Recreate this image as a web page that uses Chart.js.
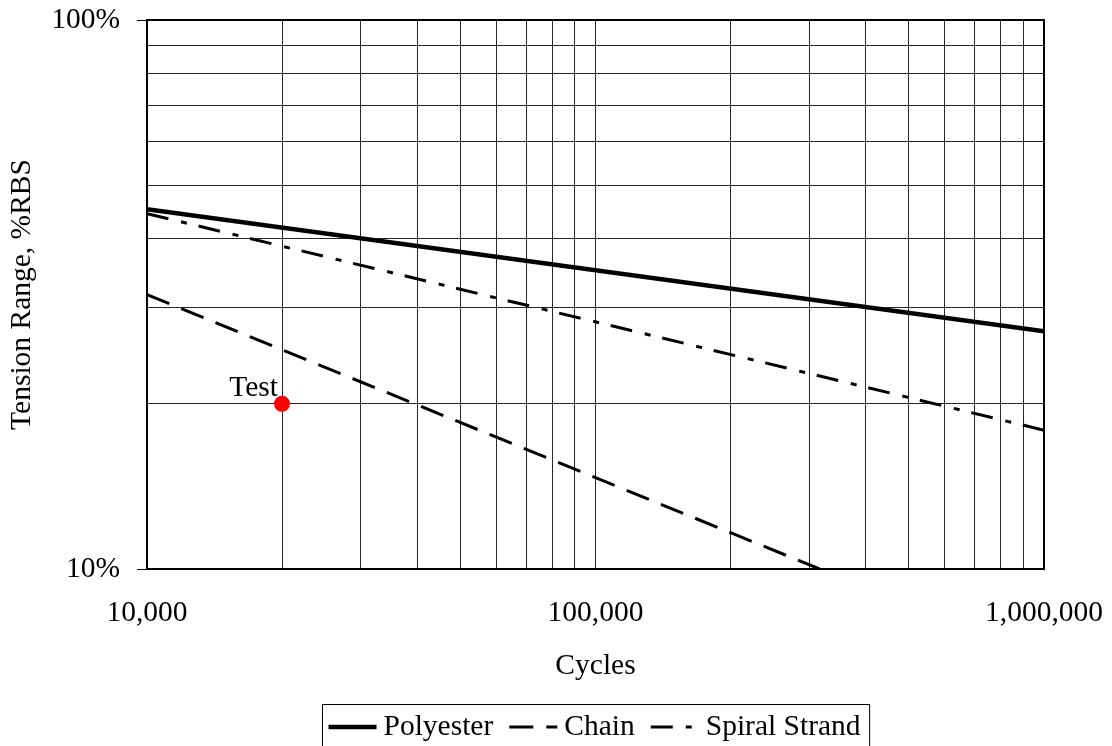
<!DOCTYPE html>
<html>
<head>
<meta charset="utf-8">
<script src="https://cdn.jsdelivr.net/npm/chart.js@4.4.1/dist/chart.umd.min.js"></script>
<style>
	body { margin: 0; background: #fff; }
	#wrap { width: 1112px; height: 746px; }
</style>
</head>
<body>
<div id="wrap"><canvas id="sn-chart" width="1112" height="746"></canvas></div>
<script>
// S-N curves (cycles vs tension range in %RBS)
var seriesNames = ['Polyester', 'Chain', 'Spiral Strand'];
var polyesterCycles = [10000, 1000000];
var polyesterTension = [45.2, 27.1];
var chainCycles = [10000, 316000];
var chainTension = [31.6, 10];
var spiralCycles = [10000, 1000000];
var spiralTension = [44.4, 17.9];
var testCycles = [20000];
var testTension = [20];
var testLabel = 'Test';

var xTicks = [10000, 20000, 30000, 40000, 50000, 60000, 70000, 80000, 90000,
	100000, 200000, 300000, 400000, 500000, 600000, 700000, 800000, 900000, 1000000];
var xTickLabels = ['10,000', '', '', '', '', '', '', '', '',
	'100,000', '', '', '', '', '', '', '', '', '1,000,000'];
var yTicks = [10, 20, 30, 40, 50, 60, 70, 80, 90, 100];
var yTickLabels = ['10%', '', '', '', '', '', '', '', '', '100%'];

var FONT = '"Liberation Serif", "Times New Roman", serif';
var FSIZE = 29.5;

function pts(xs, ys) {
	var out = [];
	for (var i = 0; i < xs.length; i++) {
		out.push({ x: xs[i], y: ys[i] });
	}
	return out;
}

var lineStyles = [
	{ width: 4.5, dash: [] },
	{ width: 3, dash: [24, 13] },
	{ width: 3, dash: [22, 13, 6, 12] }
];

// no extra room for tick labels, the layout padding already gives it
function noPad(scale) {
	scale.paddingLeft = 0;
	scale.paddingRight = 0;
	scale.paddingTop = 0;
	scale.paddingBottom = 0;
}

// border round the plot area, drawn under the lines
var frame = {
	id: 'frame',
	beforeDatasetsDraw: function(chart) {
		var a = chart.chartArea, ctx = chart.ctx;
		ctx.save();
		ctx.strokeStyle = '#000';
		ctx.lineWidth = 2;
		ctx.strokeRect(a.left, a.top, a.right - a.left, a.bottom - a.top);
		ctx.restore();
	}
};

// "Test" label next to the red point
var testText = {
	id: 'testText',
	afterDatasetsDraw: function(chart) {
		var ctx = chart.ctx;
		var px = chart.scales.x.getPixelForValue(testCycles[0]);
		var py = chart.scales.y.getPixelForValue(testTension[0]);
		ctx.save();
		ctx.font = FSIZE + 'px ' + FONT;
		ctx.fillStyle = '#000';
		ctx.textAlign = 'right';
		ctx.textBaseline = 'alphabetic';
		ctx.fillText(testLabel, px - 4, py - 8);
		ctx.restore();
	}
};

// boxed legend with line samples
var boxLegend = {
	id: 'boxLegend',
	afterDraw: function(chart) {
		var ctx = chart.ctx;
		var sample = 48, gapS = 7, gapT = 16, padL = 6, padR = 9;
		ctx.save();
		ctx.font = FSIZE + 'px ' + FONT;
		var total = padL + padR;
		var widths = [];
		for (var i = 0; i < seriesNames.length; i++) {
			widths[i] = ctx.measureText(seriesNames[i]).width;
			total += sample + gapS + widths[i];
			if (i < seriesNames.length - 1) total += gapT;
		}
		var a = chart.chartArea;
		var left = Math.round((a.left + a.right) / 2 - total / 2) + 0.5;
		var top = 704.5, h = 46, mid = 727;
		ctx.strokeStyle = '#000';
		ctx.lineWidth = 1;
		ctx.strokeRect(left, top, total, h);
		var x = left + padL;
		for (var j = 0; j < seriesNames.length; j++) {
			ctx.beginPath();
			ctx.lineWidth = lineStyles[j].width;
			ctx.setLineDash(lineStyles[j].dash);
			ctx.moveTo(x, mid);
			ctx.lineTo(x + sample, mid);
			ctx.stroke();
			ctx.setLineDash([]);
			x += sample + gapS;
			ctx.fillStyle = '#000';
			ctx.textAlign = 'left';
			ctx.textBaseline = 'middle';
			ctx.fillText(seriesNames[j], x, mid);
			x += widths[j] + gapT;
		}
		ctx.restore();
	}
};

var gridColor = '#262626';

new Chart(document.getElementById('sn-chart'), {
	type: 'line',
	data: {
		datasets: [
			{
				label: seriesNames[0],
				data: pts(polyesterCycles, polyesterTension),
				borderColor: '#000',
				borderWidth: lineStyles[0].width,
				borderDash: lineStyles[0].dash,
				pointRadius: 0,
				fill: false
			},
			{
				label: seriesNames[1],
				data: pts(chainCycles, chainTension),
				borderColor: '#000',
				borderWidth: lineStyles[1].width,
				borderDash: lineStyles[1].dash,
				pointRadius: 0,
				fill: false
			},
			{
				label: seriesNames[2],
				data: pts(spiralCycles, spiralTension),
				borderColor: '#000',
				borderWidth: lineStyles[2].width,
				borderDash: lineStyles[2].dash,
				pointRadius: 0,
				fill: false
			},
			{
				label: testLabel,
				data: pts(testCycles, testTension),
				showLine: false,
				pointRadius: 8,
				pointBackgroundColor: '#ff0000',
				pointBorderColor: '#ff0000',
				pointBorderWidth: 0
			}
		]
	},
	options: {
		responsive: false,
		animation: false,
		devicePixelRatio: 1,
		layout: { padding: { left: 0, top: 20, right: 68, bottom: 62 } },
		plugins: {
			legend: { display: false },
			tooltip: { enabled: false }
		},
		scales: {
			x: {
				type: 'logarithmic',
				min: 10000,
				max: 1000000,
				afterBuildTicks: function(scale) {
					scale.ticks = xTicks.map(function(v) { return { value: v }; });
				},
				afterFit: function(scale) { scale.height = 115; noPad(scale); },
				grid: { color: gridColor, lineWidth: 1, drawTicks: false },
				border: { display: true, color: '#000', width: 2 },
				ticks: {
					autoSkip: false,
					maxRotation: 0,
					padding: 27,
					color: '#000',
					font: { family: FONT, size: FSIZE },
					callback: function(value, index) { return xTickLabels[index]; }
				},
				title: {
					display: true,
					text: 'Cycles',
					color: '#000',
					font: { family: FONT, size: FSIZE },
					padding: 0
				}
			},
			y: {
				type: 'logarithmic',
				min: 10,
				max: 100,
				afterBuildTicks: function(scale) {
					scale.ticks = yTicks.map(function(v) { return { value: v }; });
				},
				afterFit: function(scale) { scale.width = 147; noPad(scale); },
				grid: {
					color: gridColor,
					lineWidth: 1,
					drawTicks: true,
					tickLength: 10,
					tickColor: function(c) { return yTickLabels[c.index] ? '#000' : 'rgba(0,0,0,0)'; }
				},
				border: { display: true, color: '#000', width: 2 },
				ticks: {
					autoSkip: false,
					padding: 17,
					color: '#000',
					font: { family: FONT, size: FSIZE },
					callback: function(value, index) { return yTickLabels[index]; }
				},
				title: {
					display: true,
					text: 'Tension Range, %RBS',
					color: '#000',
					font: { family: FONT, size: FSIZE },
					padding: { top: 5, bottom: 0 }
				}
			}
		}
	},
	plugins: [frame, testText, boxLegend]
});
</script>
</body>
</html>
